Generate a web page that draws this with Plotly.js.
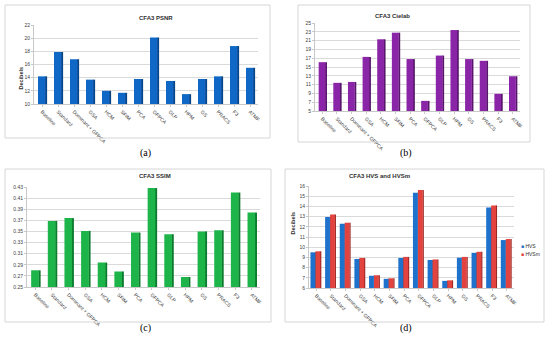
<!DOCTYPE html>
<html>
<head>
<meta charset="utf-8">
<script src="https://cdn.plot.ly/plotly-3.0.1.min.js"></script>
<style>html,body{margin:0;padding:0;background:#fff;}#chart{width:550px;height:344px;}</style>
</head>
<body>
<div id="chart"></div>
<script>
// ---- data ----
var categories = ["Baseline","Standard","Dominant + GFPCA","GSA","HCM","SFIM","PCA","GFPCA","GLP","HPM","GS","PRACS","F3","ATMF"];
var psnr   = [14.2, 17.9, 16.8, 13.7, 12.0, 11.7, 13.8, 20.1, 13.5, 11.5, 13.8, 14.2, 18.8, 15.5];
var cielab = [16.1, 11.4, 11.6, 17.3, 21.3, 22.8, 16.8, 7.3, 17.6, 23.4, 16.8, 16.4, 8.9, 12.9];
var ssim   = [0.280, 0.369, 0.374, 0.351, 0.294, 0.278, 0.348, 0.428, 0.345, 0.268, 0.350, 0.352, 0.420, 0.384];
var hvs    = [9.5, 12.95, 12.3, 8.85, 7.2, 6.9, 8.95, 15.35, 8.75, 6.7, 8.97, 9.45, 13.9, 10.7];
var hvsm   = [9.6, 13.2, 12.4, 8.95, 7.25, 6.95, 9.05, 15.6, 8.8, 6.75, 9.05, 9.55, 14.1, 10.8];
var panelTitles = ["CFA3 PSNR","CFA3 Cielab","CFA3 SSIM","CFA3 HVS and HVSm"];
var captions = ["(a)","(b)","(c)","(d)"];
var seriesNames = ["HVS","HVSm"];
var seriesColors = ["#1f72cc","#e2433f"];

var W = 550, H = 344;
function px(x){return x/W;}
function py(y){return 1 - y/H;}
var sans = 'Liberation Sans, Arial, sans-serif';

var traces = [];
function add3d(vals, xa, ya, front, side, off, wid, name){
  traces.push({type:'bar', x:categories, y:vals, xaxis:xa, yaxis:ya,
    offset: off + wid - 0.02, width: wid*0.28, marker:{color:side}, showlegend:false, hoverinfo:'skip'});
  traces.push({type:'bar', x:categories, y:vals, xaxis:xa, yaxis:ya, name:name,
    offset: off, width: wid, marker:{color:front, line:{width:0}}, showlegend:false});
}
add3d(psnr,  'x',  'y',  '#0f68c6', '#0a4483', -0.25, 0.46, 'PSNR');
add3d(cielab,'x2', 'y2', '#8a25a8', '#57156b', -0.25, 0.46, 'Cielab');
add3d(ssim,  'x3', 'y3', '#1db54a', '#0d7a2e', -0.25, 0.46, 'SSIM');
add3d(hvs,   'x4', 'y4', seriesColors[0], '#114a8a', -0.40, 0.33, seriesNames[0]);
add3d(hvsm,  'x4', 'y4', seriesColors[1], '#9c2826', -0.06, 0.33, seriesNames[1]);

var tickFont = {family:sans, size:5, color:'#404040'};
function xax(d0,d1,anchor){
  return {domain:[px(d0),px(d1)], anchor:anchor, type:'category', tickangle:45,
    tickfont:tickFont, showgrid:false, showline:true, linecolor:'#c8c8c8', linewidth:1,
    ticks:'outside', ticklen:2, tickcolor:'#c8c8c8', zeroline:false, fixedrange:true};
}
function yax(d0,d1,anchor,range,dtick,fmt){
  return {domain:[py(d1),py(d0)], anchor:anchor, range:range, dtick:dtick, tick0:range[0],
    tickformat:fmt, tickfont:tickFont, showgrid:true, gridcolor:'#dadada', gridwidth:1,
    showline:true, linecolor:'#c8c8c8', ticks:'outside', ticklen:2, tickcolor:'#c8c8c8',
    zeroline:false, fixedrange:true};
}

var boxes = [[5,5,270,138],[298,5,530,142],[5,169,271,322],[285,169,544,322]];
var shapes = boxes.map(function(b){
  return {type:'rect', xref:'paper', yref:'paper', x0:px(b[0]), x1:px(b[2]), y0:py(b[3]), y1:py(b[1]),
    line:{color:'#d6d6d6', width:1}, fillcolor:'rgba(0,0,0,0)'};
});

var titlePos = [[137,13],[412,11],[137,176],[412,176]];
var capPos = [[138,153],[414,153],[138,336],[414,336]];
var annotations = [];
panelTitles.forEach(function(t,i){
  annotations.push({text:'<b>'+t+'</b>', xref:'paper', yref:'paper', x:px(titlePos[i][0]), y:py(titlePos[i][1]),
    showarrow:false, font:{family:sans, size:6, color:'#303030'}});
});
captions.forEach(function(t,i){
  annotations.push({text:t, xref:'paper', yref:'paper', x:px(capPos[i][0]), y:py(capPos[i][1]),
    showarrow:false, font:{family:'Liberation Serif, serif', size:10, color:'#000'}});
});
[[15,65],[292,237]].forEach(function(p){
  annotations.push({text:'<b>Decibels</b>', xref:'paper', yref:'paper', x:px(p[0]), y:py(p[1]), textangle:-90,
    showarrow:false, font:{family:sans, size:5.5, color:'#303030'}});
});
// legend for panel (d)
var legPos = [[519,251],[519,259]];
seriesNames.forEach(function(n,i){
  annotations.push({text:'<span style="color:'+seriesColors[i]+'">■</span> '+n, xref:'paper', yref:'paper',
    x:px(legPos[i][0]), y:py(legPos[i][1]), xanchor:'left', showarrow:false,
    font:{family:sans, size:5, color:'#303030'}});
});

var layout = {
  width:W, height:H, margin:{l:0,r:0,t:0,b:0}, paper_bgcolor:'#fff', plot_bgcolor:'#fff',
  barmode:'overlay', showlegend:false,
  xaxis: xax(34,258,'y'),   yaxis: yax(25,104,'x',[10,22],2,''),
  xaxis2: xax(315,520,'y2'), yaxis2: yax(23,111,'x2',[5,25],2,''),
  xaxis3: xax(27,260,'y3'),  yaxis3: yax(187,287,'x3',[0.25,0.43],0.02,'.2f'),
  xaxis4: xax(309,514,'y4'), yaxis4: yax(186,288,'x4',[6,16],1,''),
  shapes:shapes, annotations:annotations
};
Plotly.newPlot('chart', traces, layout, {staticPlot:true, displayModeBar:false});
</script>
</body>
</html>
